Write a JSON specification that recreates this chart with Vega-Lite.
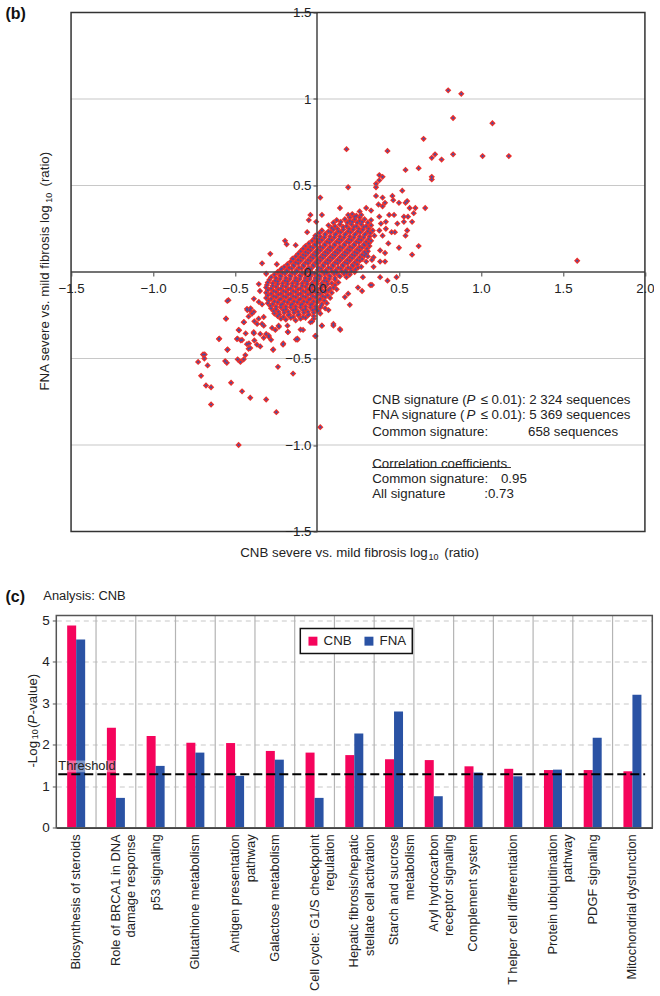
{"$schema":"https://vega.github.io/schema/vega-lite/v6.json","background":"white","padding":{"left":5.3,"top":5.5,"right":0,"bottom":0},"bounds":"flush","spacing":84,"config":{"font":"Liberation Sans","view":{"stroke":null},"text":{"font":"Liberation Sans"},"legend":{"strokeWidth":1.5}},
"datasets":{"pts":[
{"x":0.8,"y":1.05},{"x":0.88,"y":1.03},{"x":0.83,"y":0.89},{"x":1.07,"y":0.86},{"x":0.65,"y":0.77},{"x":0.18,"y":0.71},{"x":0.43,"y":0.7},{"x":0.72,"y":0.68},{"x":0.7,"y":0.66},{"x":0.76,"y":0.65},{"x":0.83,"y":0.68},{"x":1.01,"y":0.67},{"x":1.17,"y":0.67},{"x":0.54,"y":0.59},{"x":0.62,"y":0.6},{"x":0.7,"y":0.55},{"x":0.7,"y":0.535},{"x":0.38,"y":0.56},{"x":0.4,"y":0.55},{"x":0.38,"y":0.53},{"x":0.36,"y":0.51},{"x":0.36,"y":0.49},{"x":0.19,"y":0.49},{"x":0.52,"y":0.47},{"x":0.02,"y":0.43},{"x":0.46,"y":0.44},{"x":0.4,"y":0.43},{"x":0.36,"y":0.44},{"x":0.465,"y":0.415},{"x":0.415,"y":0.4},{"x":0.5,"y":0.4},{"x":0.54,"y":0.4},{"x":0.55,"y":0.41},{"x":0.375,"y":0.39},{"x":0.4,"y":0.38},{"x":0.6,"y":0.37},{"x":0.565,"y":0.37},{"x":0.66,"y":0.37},{"x":0.59,"y":0.34},{"x":0.14,"y":0.37},{"x":-0.04,"y":0.33},{"x":0.03,"y":0.33},{"x":-0.05,"y":0.3},{"x":-0.005,"y":0.29},{"x":1.587,"y":0.065},
{"x":-0.725,"y":-0.52},{"x":-0.695,"y":-0.477},{"x":-0.685,"y":-0.477},{"x":-0.687,"y":-0.5},{"x":-0.667,"y":-0.54},{"x":-0.707,"y":-0.6},{"x":-0.677,"y":-0.656},{"x":-0.646,"y":-0.666},{"x":-0.646,"y":-0.766},{"x":-0.524,"y":-0.64},{"x":-0.457,"y":-0.69},{"x":-0.407,"y":-0.727},{"x":-0.31,"y":-0.737},{"x":-0.248,"y":-0.81},{"x":-0.478,"y":-1.0},{"x":0.02,"y":-0.897},{"x":-0.238,"y":-0.548},{"x":-0.146,"y":-0.587},{"x":-0.56,"y":-0.515},{"x":-0.55,"y":-0.525},{"x":-0.484,"y":-0.505},{"x":-0.467,"y":-0.52},{"x":-0.447,"y":-0.505},{"x":-0.437,"y":-0.48},{"x":-0.547,"y":-0.45},{"x":-0.555,"y":-0.27},{"x":-0.547,"y":-0.167},{"x":-0.598,"y":-0.388},{"x":-0.478,"y":-0.335},{"x":-0.488,"y":-0.388},{"x":-0.457,"y":-0.393},{"x":-0.427,"y":-0.417},{"x":-0.417,"y":-0.444},{"x":-0.407,"y":-0.44},{"x":-0.382,"y":-0.396},{"x":-0.366,"y":-0.42},{"x":-0.346,"y":-0.43},{"x":-0.268,"y":-0.45},{"x":-0.325,"y":-0.38},{"x":-0.295,"y":-0.367},{"x":-0.28,"y":-0.392},{"x":-0.207,"y":-0.42},{"x":-0.128,"y":-0.39},{"x":-0.118,"y":-0.39},{"x":-0.01,"y":-0.37},{"x":-0.447,"y":-0.29},{"x":-0.427,"y":-0.213},{"x":-0.41,"y":-0.22},{"x":-0.396,"y":-0.24},{"x":-0.417,"y":-0.257},{"x":-0.382,"y":-0.285},{"x":-0.356,"y":-0.27},{"x":-0.325,"y":-0.26},{"x":-0.335,"y":-0.3},{"x":-0.386,"y":-0.348},{"x":-0.346,"y":-0.358},{"x":-0.31,"y":-0.358},{"x":-0.274,"y":-0.323},{"x":-0.234,"y":-0.31},{"x":-0.254,"y":-0.335},{"x":-0.177,"y":-0.348},{"x":-0.085,"y":-0.335},{"x":-0.03,"y":-0.286},{"x":0.03,"y":-0.31},{"x":0.1,"y":-0.31},{"x":0.142,"y":-0.335},
{"x":0.26,"y":0.35},{"x":0.3,"y":0.37},{"x":0.33,"y":0.355},{"x":0.38,"y":0.32},{"x":0.44,"y":0.33},{"x":0.47,"y":0.33},{"x":0.39,"y":0.28},{"x":0.42,"y":0.29},{"x":0.49,"y":0.28},{"x":0.53,"y":0.32},{"x":0.555,"y":0.32},{"x":0.53,"y":0.29},{"x":0.58,"y":0.29},{"x":0.55,"y":0.24},{"x":0.54,"y":0.21},{"x":0.475,"y":0.23},{"x":0.455,"y":0.23},{"x":0.42,"y":0.25},{"x":0.38,"y":0.24},{"x":0.4,"y":0.21},{"x":0.435,"y":0.165},{"x":0.5,"y":0.14},{"x":0.62,"y":0.15},{"x":0.58,"y":0.1},{"x":0.415,"y":0.11},{"x":0.385,"y":0.125},{"x":0.345,"y":0.085},{"x":0.415,"y":0.06},{"x":0.385,"y":0.06},{"x":0.345,"y":0.03},{"x":0.335,"y":0.07},{"x":0.485,"y":-0.03},{"x":0.43,"y":-0.05},{"x":0.385,"y":-0.03},{"x":0.325,"y":-0.075},{"x":0.335,"y":-0.075},{"x":0.28,"y":-0.03},{"x":0.25,"y":-0.09},{"x":0.275,"y":-0.11},{"x":0.19,"y":-0.125},{"x":0.2,"y":-0.19},{"x":0.12,"y":-0.1},{"x":0.17,"y":-0.145},{"x":0.07,"y":-0.22},{"x":0.1,"y":-0.3},{"x":0.03,"y":-0.31},{"x":0.14,"y":-0.33},{"x":-0.01,"y":-0.37},
{"x":-0.195,"y":0.18},{"x":-0.185,"y":0.16},{"x":-0.285,"y":0.105},{"x":-0.335,"y":0.05},{"x":-0.245,"y":0.045},{"x":-0.06,"y":0.23},{"x":-0.13,"y":0.155},{"x":-0.15,"y":0.077},{"x":-0.215,"y":0.02},{"x":-0.31,"y":-0.01},{"x":-0.355,"y":-0.07},{"x":-0.348,"y":-0.11},{"x":-0.54,"y":-0.163},{"x":-0.555,"y":-0.27},{"x":-0.385,"y":-0.155},{"x":-0.355,"y":-0.173},{"x":-0.335,"y":-0.187},{"x":-0.405,"y":-0.21},{"x":-0.445,"y":-0.29},{"x":-0.385,"y":-0.23},{"x":-0.425,"y":-0.22},{"x":-0.365,"y":-0.3},{"x":-0.325,"y":-0.31},{"x":-0.475,"y":-0.337},{"x":-0.435,"y":-0.355},{"x":-0.485,"y":-0.385},{"x":-0.465,"y":-0.395},{"x":-0.415,"y":-0.413},{"x":-0.596,"y":-0.385},{"x":-0.545,"y":-0.448},{"x":-0.385,"y":-0.355},{"x":-0.293,"y":-0.375},{"x":-0.12,"y":-0.385},{"x":-0.206,"y":-0.413},{"x":-0.267,"y":-0.448},{"x":-0.178,"y":-0.346},{"x":-0.1,"y":-0.333},{"x":-0.232,"y":-0.317},{"x":-0.04,"y":-0.29},{"x":-0.18,"y":-0.31},{"x":-0.13,"y":-0.28},
{"x":0.19,"y":0.33},{"x":0.215,"y":0.335},{"x":0.24,"y":0.325},{"x":0.27,"y":0.33},{"x":0.12,"y":0.3},{"x":0.17,"y":0.305},{"x":0.2,"y":0.295},{"x":0.23,"y":0.305},{"x":0.26,"y":0.295},{"x":0.29,"y":0.305},{"x":0.33,"y":0.3},
{"x":0.07,"y":0.27},{"x":0.11,"y":0.265},{"x":0.14,"y":0.275},{"x":0.18,"y":0.265},{"x":0.21,"y":0.275},{"x":0.24,"y":0.265},{"x":0.27,"y":0.275},{"x":0.3,"y":0.265},{"x":0.33,"y":0.27},
{"x":0.03,"y":0.24},{"x":0.07,"y":0.235},{"x":0.1,"y":0.245},{"x":0.13,"y":0.235},{"x":0.16,"y":0.245},{"x":0.19,"y":0.235},{"x":0.22,"y":0.245},{"x":0.25,"y":0.235},{"x":0.28,"y":0.245},{"x":0.31,"y":0.235},{"x":0.34,"y":0.24},
{"x":-0.01,"y":0.21},{"x":0.02,"y":0.205},{"x":0.05,"y":0.215},{"x":0.08,"y":0.205},{"x":0.11,"y":0.215},{"x":0.14,"y":0.205},{"x":0.17,"y":0.215},{"x":0.2,"y":0.205},{"x":0.23,"y":0.215},{"x":0.26,"y":0.205},{"x":0.29,"y":0.215},{"x":0.32,"y":0.205},{"x":0.35,"y":0.21},
{"x":-0.03,"y":0.18},{"x":0.0,"y":0.175},{"x":0.03,"y":0.185},{"x":0.06,"y":0.175},{"x":0.09,"y":0.185},{"x":0.12,"y":0.175},{"x":0.15,"y":0.185},{"x":0.18,"y":0.175},{"x":0.21,"y":0.185},{"x":0.24,"y":0.175},{"x":0.27,"y":0.185},{"x":0.3,"y":0.175},{"x":0.33,"y":0.18},
{"x":-0.07,"y":0.15},{"x":-0.04,"y":0.145},{"x":-0.01,"y":0.155},{"x":0.02,"y":0.145},{"x":0.05,"y":0.155},{"x":0.08,"y":0.145},{"x":0.11,"y":0.155},{"x":0.14,"y":0.145},{"x":0.17,"y":0.155},{"x":0.2,"y":0.145},{"x":0.23,"y":0.155},{"x":0.26,"y":0.145},{"x":0.29,"y":0.155},{"x":0.32,"y":0.15},
{"x":-0.1,"y":0.12},{"x":-0.07,"y":0.115},{"x":-0.04,"y":0.125},{"x":-0.01,"y":0.115},{"x":0.02,"y":0.125},{"x":0.05,"y":0.115},{"x":0.08,"y":0.125},{"x":0.11,"y":0.115},{"x":0.14,"y":0.125},{"x":0.17,"y":0.115},{"x":0.2,"y":0.125},{"x":0.23,"y":0.115},{"x":0.26,"y":0.125},{"x":0.29,"y":0.115},{"x":0.31,"y":0.12},
{"x":-0.13,"y":0.09},{"x":-0.1,"y":0.085},{"x":-0.07,"y":0.095},{"x":-0.04,"y":0.085},{"x":-0.01,"y":0.095},{"x":0.02,"y":0.085},{"x":0.05,"y":0.095},{"x":0.08,"y":0.085},{"x":0.11,"y":0.095},{"x":0.14,"y":0.085},{"x":0.17,"y":0.095},{"x":0.2,"y":0.085},{"x":0.23,"y":0.095},{"x":0.26,"y":0.085},{"x":0.29,"y":0.095},{"x":0.31,"y":0.09},
{"x":-0.16,"y":0.06},{"x":-0.13,"y":0.055},{"x":-0.1,"y":0.065},{"x":-0.07,"y":0.055},{"x":-0.04,"y":0.065},{"x":-0.01,"y":0.055},{"x":0.02,"y":0.065},{"x":0.05,"y":0.055},{"x":0.08,"y":0.065},{"x":0.11,"y":0.055},{"x":0.14,"y":0.065},{"x":0.17,"y":0.055},{"x":0.2,"y":0.065},{"x":0.23,"y":0.055},{"x":0.26,"y":0.065},{"x":0.3,"y":0.06},
{"x":-0.2,"y":0.03},{"x":-0.17,"y":0.025},{"x":-0.14,"y":0.035},{"x":-0.11,"y":0.025},{"x":-0.08,"y":0.035},{"x":-0.05,"y":0.025},{"x":-0.02,"y":0.035},{"x":0.01,"y":0.025},{"x":0.04,"y":0.035},{"x":0.07,"y":0.025},{"x":0.1,"y":0.035},{"x":0.13,"y":0.025},{"x":0.16,"y":0.035},{"x":0.19,"y":0.025},{"x":0.22,"y":0.035},{"x":0.25,"y":0.025},{"x":0.27,"y":0.03},
{"x":-0.24,"y":0.0},{"x":-0.21,"y":-0.005},{"x":-0.18,"y":0.005},{"x":-0.15,"y":-0.005},{"x":-0.12,"y":0.005},{"x":-0.09,"y":-0.005},{"x":-0.06,"y":0.005},{"x":-0.03,"y":-0.005},{"x":0.03,"y":0.005},{"x":0.06,"y":-0.005},{"x":0.09,"y":0.005},{"x":0.12,"y":-0.005},{"x":0.15,"y":0.005},{"x":0.18,"y":-0.005},{"x":0.21,"y":0.005},{"x":0.23,"y":0.0},
{"x":-0.28,"y":-0.03},{"x":-0.25,"y":-0.035},{"x":-0.22,"y":-0.025},{"x":-0.19,"y":-0.035},{"x":-0.16,"y":-0.025},{"x":-0.13,"y":-0.035},{"x":-0.1,"y":-0.025},{"x":-0.07,"y":-0.035},{"x":-0.04,"y":-0.025},{"x":-0.01,"y":-0.035},{"x":0.02,"y":-0.025},{"x":0.05,"y":-0.035},{"x":0.08,"y":-0.025},{"x":0.11,"y":-0.035},{"x":0.14,"y":-0.025},{"x":0.18,"y":-0.03},
{"x":-0.3,"y":-0.06},{"x":-0.27,"y":-0.065},{"x":-0.24,"y":-0.055},{"x":-0.21,"y":-0.065},{"x":-0.18,"y":-0.055},{"x":-0.15,"y":-0.065},{"x":-0.12,"y":-0.055},{"x":-0.09,"y":-0.065},{"x":-0.06,"y":-0.055},{"x":-0.03,"y":-0.065},{"x":0.0,"y":-0.055},{"x":0.03,"y":-0.065},{"x":0.06,"y":-0.055},{"x":0.09,"y":-0.065},{"x":0.13,"y":-0.06},
{"x":-0.31,"y":-0.09},{"x":-0.28,"y":-0.095},{"x":-0.25,"y":-0.085},{"x":-0.22,"y":-0.095},{"x":-0.19,"y":-0.085},{"x":-0.16,"y":-0.095},{"x":-0.13,"y":-0.085},{"x":-0.1,"y":-0.095},{"x":-0.07,"y":-0.085},{"x":-0.04,"y":-0.095},{"x":-0.01,"y":-0.085},{"x":0.02,"y":-0.095},{"x":0.05,"y":-0.085},{"x":0.08,"y":-0.095},{"x":0.1,"y":-0.09},
{"x":-0.31,"y":-0.12},{"x":-0.28,"y":-0.125},{"x":-0.25,"y":-0.115},{"x":-0.22,"y":-0.125},{"x":-0.19,"y":-0.115},{"x":-0.16,"y":-0.125},{"x":-0.13,"y":-0.115},{"x":-0.1,"y":-0.125},{"x":-0.07,"y":-0.115},{"x":-0.04,"y":-0.125},{"x":-0.01,"y":-0.115},{"x":0.02,"y":-0.125},{"x":0.05,"y":-0.115},{"x":0.09,"y":-0.12},
{"x":-0.31,"y":-0.15},{"x":-0.28,"y":-0.155},{"x":-0.25,"y":-0.145},{"x":-0.22,"y":-0.155},{"x":-0.19,"y":-0.145},{"x":-0.16,"y":-0.155},{"x":-0.13,"y":-0.145},{"x":-0.1,"y":-0.155},{"x":-0.07,"y":-0.145},{"x":-0.04,"y":-0.155},{"x":-0.01,"y":-0.145},{"x":0.02,"y":-0.155},{"x":0.05,"y":-0.145},{"x":0.08,"y":-0.15},
{"x":-0.3,"y":-0.18},{"x":-0.27,"y":-0.185},{"x":-0.24,"y":-0.175},{"x":-0.21,"y":-0.185},{"x":-0.18,"y":-0.175},{"x":-0.15,"y":-0.185},{"x":-0.12,"y":-0.175},{"x":-0.09,"y":-0.185},{"x":-0.06,"y":-0.175},{"x":-0.03,"y":-0.185},{"x":0.0,"y":-0.175},{"x":0.03,"y":-0.185},{"x":0.06,"y":-0.18},
{"x":-0.28,"y":-0.21},{"x":-0.25,"y":-0.215},{"x":-0.22,"y":-0.205},{"x":-0.19,"y":-0.215},{"x":-0.16,"y":-0.205},{"x":-0.13,"y":-0.215},{"x":-0.1,"y":-0.205},{"x":-0.07,"y":-0.215},{"x":-0.04,"y":-0.205},{"x":-0.01,"y":-0.215},{"x":0.02,"y":-0.205},{"x":0.05,"y":-0.21},
{"x":-0.26,"y":-0.24},{"x":-0.23,"y":-0.245},{"x":-0.2,"y":-0.235},{"x":-0.17,"y":-0.245},{"x":-0.14,"y":-0.235},{"x":-0.11,"y":-0.245},{"x":-0.08,"y":-0.235},{"x":-0.05,"y":-0.245},{"x":-0.02,"y":-0.235},{"x":0.02,"y":-0.24},
{"x":-0.22,"y":-0.27},{"x":-0.19,"y":-0.275},{"x":-0.16,"y":-0.265},{"x":-0.1,"y":-0.27},{"x":-0.07,"y":-0.265},{"x":-0.02,"y":-0.27},
{"x":0.2,"y":0.315},{"x":0.23,"y":0.32},{"x":0.26,"y":0.315},
{"x":0.1,"y":0.285},{"x":0.145,"y":0.29},{"x":0.185,"y":0.285},{"x":0.215,"y":0.29},{"x":0.245,"y":0.285},{"x":0.275,"y":0.29},{"x":0.31,"y":0.285},
{"x":0.09,"y":0.255},{"x":0.125,"y":0.25},{"x":0.16,"y":0.26},{"x":0.195,"y":0.25},{"x":0.225,"y":0.26},{"x":0.255,"y":0.25},{"x":0.285,"y":0.26},{"x":0.315,"y":0.25},
{"x":0.015,"y":0.225},{"x":0.05,"y":0.22},{"x":0.085,"y":0.23},{"x":0.115,"y":0.22},{"x":0.145,"y":0.23},{"x":0.175,"y":0.22},{"x":0.205,"y":0.23},{"x":0.235,"y":0.22},{"x":0.265,"y":0.23},{"x":0.295,"y":0.22},{"x":0.325,"y":0.225},
{"x":-0.015,"y":0.195},{"x":0.015,"y":0.19},{"x":0.045,"y":0.2},{"x":0.075,"y":0.19},{"x":0.105,"y":0.2},{"x":0.135,"y":0.19},{"x":0.165,"y":0.2},{"x":0.195,"y":0.19},{"x":0.225,"y":0.2},{"x":0.255,"y":0.19},{"x":0.285,"y":0.2},{"x":0.315,"y":0.19},
{"x":-0.05,"y":0.165},{"x":-0.015,"y":0.16},{"x":0.015,"y":0.17},{"x":0.045,"y":0.16},{"x":0.075,"y":0.17},{"x":0.105,"y":0.16},{"x":0.135,"y":0.17},{"x":0.165,"y":0.16},{"x":0.195,"y":0.17},{"x":0.225,"y":0.16},{"x":0.255,"y":0.17},{"x":0.285,"y":0.16},{"x":0.315,"y":0.165},
{"x":-0.085,"y":0.135},{"x":-0.055,"y":0.13},{"x":-0.025,"y":0.14},{"x":0.005,"y":0.13},{"x":0.035,"y":0.14},{"x":0.065,"y":0.13},{"x":0.095,"y":0.14},{"x":0.125,"y":0.13},{"x":0.155,"y":0.14},{"x":0.185,"y":0.13},{"x":0.215,"y":0.14},{"x":0.245,"y":0.13},{"x":0.275,"y":0.14},{"x":0.305,"y":0.135},
{"x":-0.115,"y":0.105},{"x":-0.085,"y":0.1},{"x":-0.055,"y":0.11},{"x":-0.025,"y":0.1},{"x":0.005,"y":0.11},{"x":0.035,"y":0.1},{"x":0.065,"y":0.11},{"x":0.095,"y":0.1},{"x":0.125,"y":0.11},{"x":0.155,"y":0.1},{"x":0.185,"y":0.11},{"x":0.215,"y":0.1},{"x":0.245,"y":0.11},{"x":0.275,"y":0.1},{"x":0.3,"y":0.105},
{"x":-0.145,"y":0.075},{"x":-0.115,"y":0.07},{"x":-0.085,"y":0.08},{"x":-0.055,"y":0.07},{"x":-0.025,"y":0.08},{"x":0.005,"y":0.07},{"x":0.035,"y":0.08},{"x":0.065,"y":0.07},{"x":0.095,"y":0.08},{"x":0.125,"y":0.07},{"x":0.155,"y":0.08},{"x":0.185,"y":0.07},{"x":0.215,"y":0.08},{"x":0.245,"y":0.07},{"x":0.275,"y":0.075},
{"x":-0.18,"y":0.045},{"x":-0.145,"y":0.04},{"x":-0.115,"y":0.05},{"x":-0.085,"y":0.04},{"x":-0.055,"y":0.05},{"x":-0.025,"y":0.04},{"x":0.005,"y":0.05},{"x":0.035,"y":0.04},{"x":0.065,"y":0.05},{"x":0.095,"y":0.04},{"x":0.125,"y":0.05},{"x":0.155,"y":0.04},{"x":0.185,"y":0.05},{"x":0.215,"y":0.04},{"x":0.245,"y":0.045},
{"x":-0.22,"y":0.015},{"x":-0.185,"y":0.01},{"x":-0.155,"y":0.02},{"x":-0.125,"y":0.01},{"x":-0.095,"y":0.02},{"x":-0.065,"y":0.01},{"x":-0.035,"y":0.02},{"x":0.005,"y":0.012},{"x":0.025,"y":0.02},{"x":0.055,"y":0.01},{"x":0.085,"y":0.02},{"x":0.115,"y":0.01},{"x":0.145,"y":0.02},{"x":0.175,"y":0.01},{"x":0.205,"y":0.02},{"x":0.235,"y":0.015},
{"x":-0.26,"y":-0.015},{"x":-0.225,"y":-0.02},{"x":-0.195,"y":-0.01},{"x":-0.165,"y":-0.02},{"x":-0.135,"y":-0.01},{"x":-0.105,"y":-0.02},{"x":-0.075,"y":-0.01},{"x":-0.045,"y":-0.02},{"x":-0.015,"y":-0.01},{"x":0.015,"y":-0.02},{"x":0.045,"y":-0.01},{"x":0.075,"y":-0.02},{"x":0.105,"y":-0.01},{"x":0.135,"y":-0.02},{"x":0.165,"y":-0.01},{"x":0.2,"y":-0.015},
{"x":-0.29,"y":-0.045},{"x":-0.255,"y":-0.05},{"x":-0.225,"y":-0.04},{"x":-0.195,"y":-0.05},{"x":-0.165,"y":-0.04},{"x":-0.135,"y":-0.05},{"x":-0.105,"y":-0.04},{"x":-0.075,"y":-0.05},{"x":-0.045,"y":-0.04},{"x":-0.015,"y":-0.05},{"x":0.015,"y":-0.04},{"x":0.045,"y":-0.05},{"x":0.075,"y":-0.04},{"x":0.11,"y":-0.045},
{"x":-0.305,"y":-0.075},{"x":-0.27,"y":-0.08},{"x":-0.24,"y":-0.07},{"x":-0.21,"y":-0.08},{"x":-0.18,"y":-0.07},{"x":-0.15,"y":-0.08},{"x":-0.12,"y":-0.07},{"x":-0.09,"y":-0.08},{"x":-0.06,"y":-0.07},{"x":-0.03,"y":-0.08},{"x":0.0,"y":-0.07},{"x":0.03,"y":-0.08},{"x":0.065,"y":-0.07},{"x":0.11,"y":-0.075},
{"x":-0.3,"y":-0.105},{"x":-0.265,"y":-0.11},{"x":-0.235,"y":-0.1},{"x":-0.205,"y":-0.11},{"x":-0.175,"y":-0.1},{"x":-0.145,"y":-0.11},{"x":-0.115,"y":-0.1},{"x":-0.085,"y":-0.11},{"x":-0.055,"y":-0.1},{"x":-0.025,"y":-0.11},{"x":0.005,"y":-0.1},{"x":0.035,"y":-0.11},{"x":0.07,"y":-0.105},
{"x":-0.3,"y":-0.135},{"x":-0.265,"y":-0.14},{"x":-0.235,"y":-0.13},{"x":-0.205,"y":-0.14},{"x":-0.175,"y":-0.13},{"x":-0.145,"y":-0.14},{"x":-0.115,"y":-0.13},{"x":-0.085,"y":-0.14},{"x":-0.055,"y":-0.13},{"x":-0.025,"y":-0.14},{"x":0.005,"y":-0.13},{"x":0.035,"y":-0.14},{"x":0.065,"y":-0.135},
{"x":-0.295,"y":-0.165},{"x":-0.26,"y":-0.17},{"x":-0.23,"y":-0.16},{"x":-0.2,"y":-0.17},{"x":-0.17,"y":-0.16},{"x":-0.14,"y":-0.17},{"x":-0.11,"y":-0.16},{"x":-0.08,"y":-0.17},{"x":-0.05,"y":-0.16},{"x":-0.02,"y":-0.17},{"x":0.015,"y":-0.16},{"x":0.045,"y":-0.165},
{"x":-0.285,"y":-0.195},{"x":-0.25,"y":-0.2},{"x":-0.22,"y":-0.19},{"x":-0.19,"y":-0.2},{"x":-0.16,"y":-0.19},{"x":-0.13,"y":-0.2},{"x":-0.1,"y":-0.19},{"x":-0.07,"y":-0.2},{"x":-0.04,"y":-0.19},{"x":-0.01,"y":-0.2},{"x":0.025,"y":-0.195},
{"x":-0.265,"y":-0.225},{"x":-0.235,"y":-0.23},{"x":-0.205,"y":-0.22},{"x":-0.175,"y":-0.23},{"x":-0.145,"y":-0.22},{"x":-0.115,"y":-0.23},{"x":-0.085,"y":-0.22},{"x":-0.055,"y":-0.23},{"x":-0.025,"y":-0.22},{"x":0.01,"y":-0.225},
{"x":-0.24,"y":-0.255},{"x":-0.205,"y":-0.26},{"x":-0.175,"y":-0.25},{"x":-0.145,"y":-0.26},{"x":-0.115,"y":-0.25},{"x":-0.085,"y":-0.26},{"x":-0.055,"y":-0.25},{"x":-0.02,"y":-0.255}
]},
"vconcat":[
{"width":596,"height":519,
"encoding":{
"x":{"field":"x","type":"quantitative","scale":{"domain":[-1.59,2.045],"nice":false,"zero":false},"axis":{"title":null,"orient":"bottom","offset":-259.5,"values":[-1.5,-1,-0.5,0,0.5,1,1.5,2],"labelExpr":"replace(format(datum.value,'.1f'),'-','−')","labelFontSize":13.3,"labelColor":"#222","labelPadding":5,"tickSize":4,"tickColor":"#444","domain":false,"grid":false,"zindex":1,"labelFlush":false,"labelOverlap":false,"labelBound":false}},
"y":{"field":"y","type":"quantitative","scale":{"domain":[-1.5,1.5],"nice":false,"zero":false},"axis":{"title":null,"orient":"left","offset":-260.7,"values":[-1.5,-1,-0.5,0,0.5,1,1.5],"labelExpr":"datum.value==1?'1':datum.value==0?'0':replace(format(datum.value,'.1f'),'-','−')","labelFontSize":13.3,"labelColor":"#222","labelPadding":2,"tickSize":4,"tickColor":"#444","domain":false,"grid":false,"zindex":1,"labelOverlap":false,"labelBound":false}}},
"layer":[
{"data":{"values":[{"x":-1.5,"x2":2,"y":1},{"x":-1.5,"x2":2,"y":0.5},{"x":-1.5,"x2":2,"y":-0.5},{"x":-1.5,"x2":2,"y":-1}]},"mark":{"type":"rule","color":"#c8c8c8","strokeWidth":1.2},"encoding":{"x2":{"field":"x2"}}},
{"data":{"name":"pts"},"mark":{"type":"point","shape":"diamond","filled":true,"opacity":1,"size":40,"color":"#ea302c"}},
{"data":{"name":"pts"},"mark":{"type":"point","shape":"diamond","filled":true,"opacity":1,"size":7,"color":"#4450a8"}},
{"data":{"values":[{"x":-1.5,"x2":2,"y":0,"y2":0},{"x":0,"x2":0,"y":-1.5,"y2":1.5}]},"mark":{"type":"rule","color":"#444","strokeWidth":1.5},"encoding":{"x2":{"field":"x2"},"y2":{"field":"y2"}}},
{"data":{"values":[{"x":0.337,"x2":1.183,"y":-1.13,"y2":-1.13}]},"mark":{"type":"rule","color":"#333","strokeWidth":1},"encoding":{"x2":{"field":"x2"},"y2":{"field":"y2"}}},
{"data":{"values":[{"x":-1.5,"x2":2,"y":-1.5,"y2":1.5}]},"mark":{"type":"rect","fillOpacity":0,"stroke":"#333","strokeWidth":1.5},"encoding":{"x2":{"field":"x2"},"y2":{"field":"y2"}}},
{"data":{"values":[
{"x":0.337,"y":-0.737,"t":"CNB signature ("},{"x":0.998,"y":-0.737,"t":"≤ 0.01): 2 324 sequences"},
{"x":0.337,"y":-0.824,"t":"FNA signature ("},{"x":0.998,"y":-0.824,"t":"≤ 0.01): 5 369 sequences"},
{"x":0.337,"y":-0.922,"t":"Common signature:"},{"x":1.287,"y":-0.922,"t":"658 sequences"},
{"x":0.337,"y":-1.107,"t":"Correlation coefficients"},
{"x":0.337,"y":-1.194,"t":"Common signature:"},{"x":1.122,"y":-1.194,"t":"0.95"},
{"x":0.337,"y":-1.286,"t":"All signature"},{"x":1.02,"y":-1.286,"t":":0.73"},
{"x":-0.468,"y":-1.627,"t":"CNB severe vs. mild fibrosis log"},{"x":0.776,"y":-1.627,"t":"(ratio)"}
]},"mark":{"type":"text","align":"left","baseline":"middle","fontSize":13.3,"color":"#222"},"encoding":{"text":{"field":"t"}}},
{"data":{"values":[{"x":0.912,"y":-0.737,"t":"P"},{"x":0.912,"y":-0.824,"t":"P"}]},"mark":{"type":"text","align":"left","baseline":"middle","fontSize":13.3,"fontStyle":"italic","color":"#222"},"encoding":{"text":{"field":"t"}}},
{"data":{"values":[{"x":0.68,"y":-1.645,"t":"10"}]},"mark":{"type":"text","align":"left","baseline":"middle","fontSize":9,"color":"#222"},"encoding":{"text":{"field":"t"}}},
{"data":{"values":[{"x":-1.657,"y":-0.685,"t":"FNA severe vs. mild fibrosis log"},{"x":-1.657,"y":0.494,"t":"(ratio)"}]},"mark":{"type":"text","align":"left","baseline":"middle","angle":270,"fontSize":13.3,"color":"#222"},"encoding":{"text":{"field":"t"}}},
{"data":{"values":[{"x":-1.637,"y":0.4,"t":"10"}]},"mark":{"type":"text","align":"left","baseline":"middle","angle":270,"fontSize":9,"color":"#222"},"encoding":{"text":{"field":"t"}}},
{"data":{"values":[{"x":-1.9,"y":1.49,"t":"(b)"}]},"mark":{"type":"text","align":"left","baseline":"middle","fontSize":16,"fontWeight":"bold","color":"#111"},"encoding":{"text":{"field":"t"}}}
]},
{"width":596,"height":212.3,"resolve":{"scale":{"x":"independent"},"axis":{"x":"independent"}},
"encoding":{"y":{"field":"y","type":"quantitative","scale":{"domain":[0,5.11],"nice":false},"axis":{"title":null,"values":[0,1,2,3,4,5],"labelFontSize":13.5,"labelColor":"#222","labelPadding":3,"tickSize":4,"tickColor":"#555","grid":true,"gridDash":[5,4],"gridColor":"#c8c8c8","gridWidth":1.2,"domain":false}}},
"layer":[
{"data":{"values":[{"x":1,"y":0,"y2":5.11},{"x":2,"y":0,"y2":5.11},{"x":3,"y":0,"y2":5.11},{"x":4,"y":0,"y2":5.11},{"x":5,"y":0,"y2":5.11},{"x":6,"y":0,"y2":5.11},{"x":7,"y":0,"y2":5.11},{"x":8,"y":0,"y2":5.11},{"x":9,"y":0,"y2":5.11},{"x":10,"y":0,"y2":5.11},{"x":11,"y":0,"y2":5.11},{"x":12,"y":0,"y2":5.11},{"x":13,"y":0,"y2":5.11},{"x":14,"y":0,"y2":5.11}]},"mark":{"type":"rule","color":"#b4b4b4","strokeWidth":1.2},"encoding":{"x":{"field":"x","type":"quantitative","scale":{"domain":[0,15],"nice":false,"zero":false},"axis":null},"y2":{"field":"y2"}}},
{"data":{"values":[
{"cat":"Biosynthesis of steroids","series":"CNB","y":4.87},{"cat":"Biosynthesis of steroids","series":"FNA","y":4.53},
{"cat":"Role of BRCA1 in DNA|damage response","series":"CNB","y":2.41},{"cat":"Role of BRCA1 in DNA|damage response","series":"FNA","y":0.72},
{"cat":"p53 signaling","series":"CNB","y":2.21},{"cat":"p53 signaling","series":"FNA","y":1.49},
{"cat":"Glutathione metabolism","series":"CNB","y":2.05},{"cat":"Glutathione metabolism","series":"FNA","y":1.81},
{"cat":"Antigen presentation|pathway","series":"CNB","y":2.04},{"cat":"Antigen presentation|pathway","series":"FNA","y":1.25},
{"cat":"Galactose metabolism","series":"CNB","y":1.85},{"cat":"Galactose metabolism","series":"FNA","y":1.64},
{"cat":"Cell cycle: G1/S checkpoint|regulation","series":"CNB","y":1.81},{"cat":"Cell cycle: G1/S checkpoint|regulation","series":"FNA","y":0.72},
{"cat":"Hepatic fibrosis/hepatic|stellate cell activation","series":"CNB","y":1.75},{"cat":"Hepatic fibrosis/hepatic|stellate cell activation","series":"FNA","y":2.27},
{"cat":"Starch and sucrose|metabolism","series":"CNB","y":1.65},{"cat":"Starch and sucrose|metabolism","series":"FNA","y":2.8},
{"cat":"Aryl hydrocarbon|receptor signaling","series":"CNB","y":1.63},{"cat":"Aryl hydrocarbon|receptor signaling","series":"FNA","y":0.76},
{"cat":"Complement system","series":"CNB","y":1.48},{"cat":"Complement system","series":"FNA","y":1.33},
{"cat":"T helper cell differentiation","series":"CNB","y":1.42},{"cat":"T helper cell differentiation","series":"FNA","y":1.24},
{"cat":"Protein ubiquitination|pathway","series":"CNB","y":1.39},{"cat":"Protein ubiquitination|pathway","series":"FNA","y":1.4},
{"cat":"PDGF signaling","series":"CNB","y":1.39},{"cat":"PDGF signaling","series":"FNA","y":2.17},
{"cat":"Mitochondrial dysfunction","series":"CNB","y":1.36},{"cat":"Mitochondrial dysfunction","series":"FNA","y":3.2}
]},"mark":{"type":"bar"},"encoding":{
"x":{"field":"cat","type":"nominal","sort":null,"scale":{"paddingInner":0.547,"paddingOuter":0.2735},"axis":{"title":null,"labelAngle":270,"labelAlign":"right","labelBaseline":"middle","labelExpr":"split(datum.value,'|')","labelFontSize":12.9,"labelColor":"#222","labelLineHeight":15.5,"labelPadding":6,"labelLimit":0,"ticks":false,"grid":false,"domainColor":"#333","domainWidth":1.5,"labelOverlap":false,"labelFlush":false}},
"xOffset":{"field":"series","type":"nominal","sort":["CNB","FNA"]},
"color":{"field":"series","type":"nominal","sort":["CNB","FNA"],"scale":{"domain":["CNB","FNA"],"range":["#f5045c","#2a52a4"]},"legend":{"title":null,"orient":"none","legendX":244,"legendY":616,"direction":"horizontal","columns":2,"symbolType":"square","symbolSize":80,"symbolOpacity":1,"labelFontSize":13.3,"labelColor":"#222","strokeColor":"#111","fillColor":"#fff","padding":6,"columnPadding":10}}}},
{"data":{"values":[{"x":0,"x2":15,"y":0,"y2":5.11}]},"mark":{"type":"rect","fillOpacity":0,"stroke":"#555","strokeWidth":1.5},"encoding":{"x":{"field":"x","type":"quantitative","scale":{"domain":[0,15],"nice":false,"zero":false},"axis":null},"x2":{"field":"x2"},"y2":{"field":"y2"}}},
{"data":{"values":[{"x":0.05,"x2":1.5,"y":1.34,"y2":1.62}]},"mark":{"type":"rect","fill":"#fff","opacity":0.4},"encoding":{"x":{"field":"x","type":"quantitative","scale":{"domain":[0,15],"nice":false,"zero":false},"axis":null},"x2":{"field":"x2"},"y2":{"field":"y2"}}},
{"data":{"values":[{"x":0.05,"x2":14.82,"y":1.29}]},"mark":{"type":"rule","color":"#000","strokeWidth":2,"strokeDash":[9,4]},"encoding":{"x":{"field":"x","type":"quantitative","scale":{"domain":[0,15],"nice":false,"zero":false},"axis":null},"x2":{"field":"x2"}}},
{"data":{"values":[{"x":0.05,"y":1.48,"t":"Threshold"},{"x":-0.327,"y":5.59,"t":"Analysis: CNB"}]},"mark":{"type":"text","align":"left","baseline":"middle","fontSize":12.9,"color":"#222"},"encoding":{"x":{"field":"x","type":"quantitative","scale":{"domain":[0,15],"nice":false,"zero":false},"axis":null},"text":{"field":"t"}}},
{"data":{"values":[{"x":-1.28,"y":5.55,"t":"(c)"}]},"mark":{"type":"text","align":"left","baseline":"middle","fontSize":16,"fontWeight":"bold","color":"#111"},"encoding":{"x":{"field":"x","type":"quantitative","scale":{"domain":[0,15],"nice":false,"zero":false},"axis":null},"text":{"field":"t"}}},
{"data":{"values":[{"x":-0.579,"y":1.45,"t":"-Log"},{"x":-0.579,"y":2.4,"t":"("},{"x":-0.579,"y":2.73,"t":"-value)"}]},"mark":{"type":"text","align":"left","baseline":"middle","angle":270,"fontSize":13.3,"color":"#222"},"encoding":{"x":{"field":"x","type":"quantitative","scale":{"domain":[0,15],"nice":false,"zero":false},"axis":null},"text":{"field":"t"}}},
{"data":{"values":[{"x":-0.579,"y":2.5,"t":"P"}]},"mark":{"type":"text","align":"left","baseline":"middle","angle":270,"fontSize":13.3,"fontStyle":"italic","color":"#222"},"encoding":{"x":{"field":"x","type":"quantitative","scale":{"domain":[0,15],"nice":false,"zero":false},"axis":null},"text":{"field":"t"}}},
{"data":{"values":[{"x":-0.53,"y":2.13,"t":"10"}]},"mark":{"type":"text","align":"left","baseline":"middle","angle":270,"fontSize":9,"color":"#222"},"encoding":{"x":{"field":"x","type":"quantitative","scale":{"domain":[0,15],"nice":false,"zero":false},"axis":null},"text":{"field":"t"}}}
]}
]}
